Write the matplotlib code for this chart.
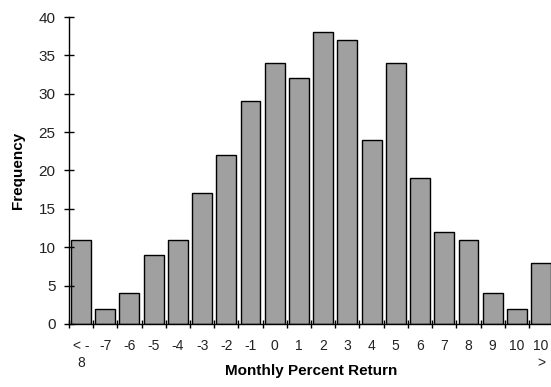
import matplotlib.pyplot as plt
import numpy as np

plt.rcParams['font.family'] = ['Liberation Sans', 'DejaVu Sans']

# return buckets and how many months fell in each
labels = ["< -\n8", "-7", "-6", "-5", "-4", "-3", "-2", "-1", "0", "1",
          "2", "3", "4", "5", "6", "7", "8", "9", "10", "10\n>"]
freq = [11, 2, 4, 9, 11, 17, 22, 29, 34, 32,
        38, 37, 24, 34, 19, 12, 11, 4, 2, 8]

fig = plt.figure(figsize=(5.51, 3.87), dpi=100)
ax = fig.add_axes([0.125, 0.163, 0.879, 0.793])

x = np.arange(len(labels))
ax.bar(x, freq, width=0.82, color='#a0a0a0', edgecolor='black', linewidth=1.0)

ax.set_xlim(-0.5, len(labels) - 0.5)
ax.set_ylim(0, 40)
ax.set_yticks(range(0, 41, 5))

# category labels centred, tick marks between categories
ax.set_xticks(x)
ax.set_xticklabels(labels, fontsize=10, color='#222222', va='top', ha='center',
                   multialignment='center', linespacing=1.3)
ax.tick_params(axis='x', which='major', length=0, pad=11)
ax.set_xticks(np.arange(-0.5, len(labels), 1), minor=True)
ax.tick_params(axis='x', which='minor', direction='inout', length=6, width=1)
ax.tick_params(axis='y', direction='inout', length=7, width=1, labelsize=11,
               labelcolor='#222222', pad=6)

for s in ['top', 'right']:
    ax.spines[s].set_visible(False)
for s in ['left', 'bottom']:
    ax.spines[s].set_linewidth(1.0)

ax.set_xlabel("Monthly Percent Return", fontsize=11, fontweight='bold', labelpad=-5)
ax.set_ylabel("Frequency", fontsize=11, fontweight='bold', labelpad=10)

fig.savefig("out.png", dpi=100)
